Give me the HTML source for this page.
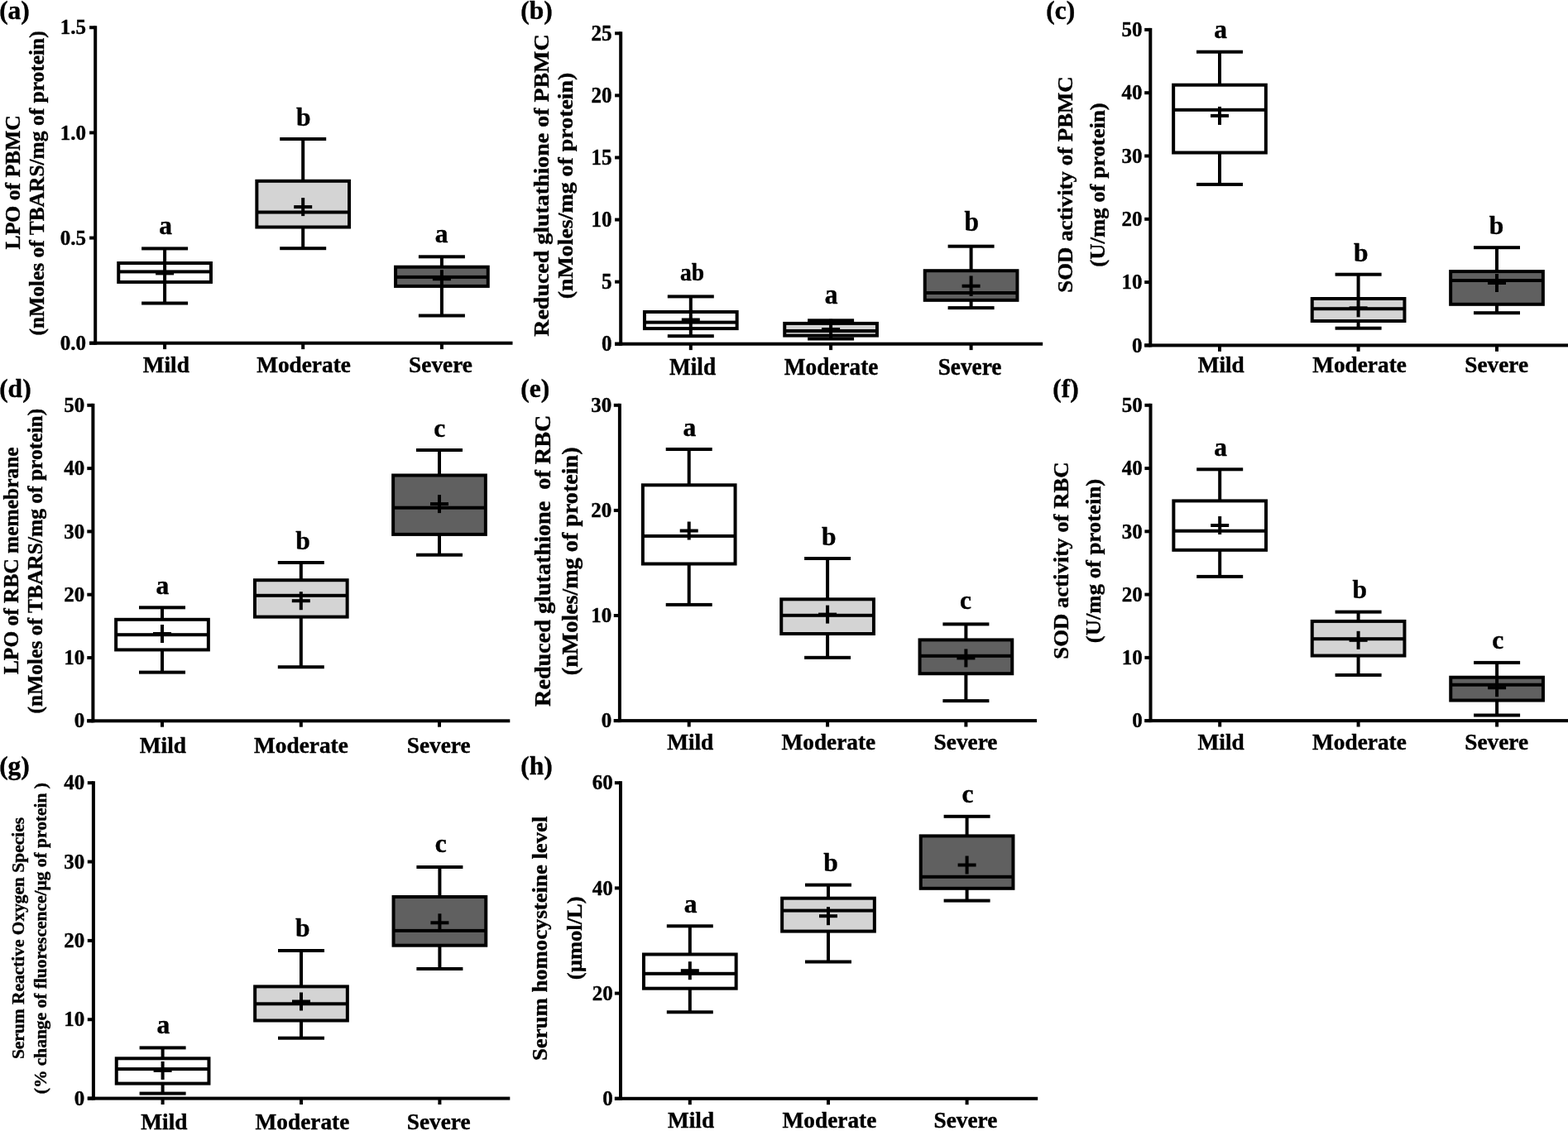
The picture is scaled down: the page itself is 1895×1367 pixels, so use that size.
<!DOCTYPE html>
<html><head><meta charset="utf-8"><title>Box plots</title>
<style>html,body{margin:0;padding:0;background:#fff;width:1895px;height:1367px;overflow:hidden}svg{display:block}text{font-family:"Liberation Serif","Times New Roman",serif;font-weight:bold;white-space:pre;stroke:#000;stroke-width:0.4px;stroke-linejoin:round}</style>
</head><body>
<svg width="1895" height="1367" viewBox="0 0 1895 1367" font-family="'Liberation Serif','Times New Roman',serif" font-weight="bold" fill="#000">
<rect width="100%" height="100%" fill="#fff"/>
<rect x="113.2" y="31.25" width="4" height="385.45" fill="#000"/>
<rect x="108.1" y="412.7" width="511.4" height="4" fill="#000"/>
<rect x="108.1" y="412.7" width="7.1" height="4" fill="#000"/>
<text x="72.7" y="422.89" font-size="25">0.0</text>
<rect x="108.1" y="285.55" width="7.1" height="4" fill="#000"/>
<text x="72.67" y="295.74" font-size="25">0.5</text>
<rect x="108.1" y="158.4" width="7.1" height="4" fill="#000"/>
<text x="72.7" y="168.59" font-size="25">1.0</text>
<rect x="108.1" y="31.25" width="7.1" height="4" fill="#000"/>
<text x="72.67" y="41.44" font-size="25">1.5</text>
<rect x="197.1" y="414.7" width="4" height="7.4" fill="#000"/>
<rect x="364.2" y="414.7" width="4" height="7.4" fill="#000"/>
<rect x="531.9" y="414.7" width="4" height="7.4" fill="#000"/>
<rect x="197.1" y="300.4" width="4" height="17.6" fill="#000"/>
<rect x="197.1" y="340.9" width="4" height="25.6" fill="#000"/>
<rect x="171.1" y="298.4" width="56" height="4" fill="#000"/>
<rect x="171.1" y="364.5" width="56" height="4" fill="#000"/>
<rect x="141.25" y="316" width="115.7" height="26.9" fill="#000"/>
<rect x="145.25" y="320" width="107.7" height="18.9" fill="#fff"/>
<rect x="143.25" y="326.4" width="111.7" height="4" fill="#000"/>
<rect x="188.1" y="328.4" width="22" height="4" fill="#000"/>
<rect x="197.1" y="319.4" width="4" height="22" fill="#000"/>
<text x="192.36" y="283.4" font-size="31.5">a</text>
<rect x="364.2" y="168" width="4" height="50.8" fill="#000"/>
<rect x="364.2" y="274.5" width="4" height="25.7" fill="#000"/>
<rect x="338.2" y="166" width="56" height="4" fill="#000"/>
<rect x="338.2" y="298.2" width="56" height="4" fill="#000"/>
<rect x="308.35" y="216.8" width="115.7" height="59.7" fill="#000"/>
<rect x="312.35" y="220.8" width="107.7" height="51.7" fill="#d4d4d4"/>
<rect x="310.35" y="254.5" width="111.7" height="4" fill="#000"/>
<rect x="355.2" y="248.1" width="22" height="4" fill="#000"/>
<rect x="364.2" y="239.1" width="4" height="22" fill="#000"/>
<text x="357.98" y="152" font-size="31.5">b</text>
<rect x="531.9" y="310.3" width="4" height="12.4" fill="#000"/>
<rect x="531.9" y="345.9" width="4" height="35.6" fill="#000"/>
<rect x="505.9" y="308.3" width="56" height="4" fill="#000"/>
<rect x="505.9" y="379.5" width="56" height="4" fill="#000"/>
<rect x="476.05" y="320.7" width="115.7" height="27.2" fill="#000"/>
<rect x="480.05" y="324.7" width="107.7" height="19.2" fill="#606060"/>
<rect x="478.05" y="332.9" width="111.7" height="4" fill="#000"/>
<rect x="522.9" y="335.2" width="22" height="4" fill="#000"/>
<rect x="531.9" y="326.2" width="4" height="22" fill="#000"/>
<text x="525.76" y="293.4" font-size="31.5">a</text>
<text x="172.76" y="450.1" font-size="27.3">Mild</text>
<text x="310.17" y="450.1" font-size="27.3">Moderate</text>
<text x="494.08" y="450.1" font-size="27.3">Severe</text>
<text transform="translate(24.4 221.05) rotate(-90) scale(1 0.95)" x="-80.39" font-size="25.63">LPO of PBMC</text>
<text transform="translate(53.2 220.85) rotate(-90) scale(1 0.95)" x="-184.65" font-size="25.47">(nMoles of TBARS/mg of protein)</text>
<text x="-0.88" y="23.2" font-size="31.5">(a)</text>
<rect x="748.2" y="38.3" width="4" height="379.4" fill="#000"/>
<rect x="743.1" y="413.7" width="517.1" height="4" fill="#000"/>
<rect x="743.1" y="413.7" width="7.1" height="4" fill="#000"/>
<text transform="translate(726.95 424.46) scale(1 1.07)" font-size="25">0</text>
<rect x="743.1" y="338.62" width="7.1" height="4" fill="#000"/>
<text transform="translate(726.92 349.38) scale(1 1.07)" font-size="25">5</text>
<rect x="743.1" y="263.54" width="7.1" height="4" fill="#000"/>
<text transform="translate(714.45 274.3) scale(1 1.07)" font-size="25">10</text>
<rect x="743.1" y="188.46" width="7.1" height="4" fill="#000"/>
<text transform="translate(714.42 199.22) scale(1 1.07)" font-size="25">15</text>
<rect x="743.1" y="113.38" width="7.1" height="4" fill="#000"/>
<text transform="translate(714.45 124.14) scale(1 1.07)" font-size="25">20</text>
<rect x="743.1" y="38.3" width="7.1" height="4" fill="#000"/>
<text transform="translate(714.42 49.06) scale(1 1.07)" font-size="25">25</text>
<rect x="832.8" y="415.7" width="4" height="7.4" fill="#000"/>
<rect x="1002.1" y="415.7" width="4" height="7.4" fill="#000"/>
<rect x="1171.6" y="415.7" width="4" height="7.4" fill="#000"/>
<rect x="832.8" y="358.4" width="4" height="18.6" fill="#000"/>
<rect x="832.8" y="397.1" width="4" height="9.1" fill="#000"/>
<rect x="806.8" y="356.4" width="56" height="4" fill="#000"/>
<rect x="806.8" y="404.2" width="56" height="4" fill="#000"/>
<rect x="776.95" y="375" width="115.7" height="24.1" fill="#000"/>
<rect x="780.95" y="379" width="107.7" height="16.1" fill="#fff"/>
<rect x="778.95" y="387.6" width="111.7" height="4" fill="#000"/>
<rect x="823.8" y="384.5" width="22" height="4" fill="#000"/>
<rect x="832.8" y="374.2" width="4" height="24.6" fill="#000"/>
<text transform="translate(821.99 339.4) scale(1 1.04)" font-size="27.5">ab</text>
<rect x="1002.1" y="387.3" width="4" height="3.6" fill="#000"/>
<rect x="1002.1" y="405.6" width="4" height="3.9" fill="#000"/>
<rect x="976.1" y="385.3" width="56" height="4" fill="#000"/>
<rect x="976.1" y="407.5" width="56" height="4" fill="#000"/>
<rect x="946.25" y="388.9" width="115.7" height="18.7" fill="#000"/>
<rect x="950.25" y="392.9" width="107.7" height="10.7" fill="#d4d4d4"/>
<rect x="948.25" y="398" width="111.7" height="4" fill="#000"/>
<rect x="993.1" y="396" width="22" height="4" fill="#000"/>
<rect x="1002.1" y="385.7" width="4" height="24.6" fill="#000"/>
<text transform="translate(996.76 366.9) scale(1 1.05)" font-size="31.5">a</text>
<rect x="1171.6" y="297.7" width="4" height="29.5" fill="#000"/>
<rect x="1171.6" y="362.8" width="4" height="9.3" fill="#000"/>
<rect x="1145.6" y="295.7" width="56" height="4" fill="#000"/>
<rect x="1145.6" y="370.1" width="56" height="4" fill="#000"/>
<rect x="1115.75" y="325.2" width="115.7" height="39.6" fill="#000"/>
<rect x="1119.75" y="329.2" width="107.7" height="31.6" fill="#606060"/>
<rect x="1117.75" y="352" width="111.7" height="4" fill="#000"/>
<rect x="1162.6" y="343.7" width="22" height="4" fill="#000"/>
<rect x="1171.6" y="333.4" width="4" height="24.6" fill="#000"/>
<text transform="translate(1165.58 279.3) scale(1 1.05)" font-size="31.5">b</text>
<text transform="translate(808.96 452.7) scale(1 1.05)" font-size="27.3">Mild</text>
<text transform="translate(947.77 452.7) scale(1 1.05)" font-size="27.3">Moderate</text>
<text transform="translate(1133.68 452.7) scale(1 1.05)" font-size="27.3">Severe</text>
<text transform="translate(662.5 224.75) rotate(-90) scale(1 0.9)" x="-181.94" font-size="27.94">Reduced glutathione of PBMC</text>
<text transform="translate(691.7 224.2) rotate(-90) scale(1 0.9)" x="-137.15" font-size="27.9">(nMoles/mg of protein)</text>
<text x="629.22" y="23.2" font-size="31.5">(b)</text>
<rect x="1388.3" y="33.9" width="4" height="385.5" fill="#000"/>
<rect x="1383.2" y="415.4" width="516.8" height="4" fill="#000"/>
<rect x="1383.2" y="415.4" width="7.1" height="4" fill="#000"/>
<text x="1367.95" y="425.59" font-size="25">0</text>
<rect x="1383.2" y="339.1" width="7.1" height="4" fill="#000"/>
<text x="1355.45" y="349.29" font-size="25">10</text>
<rect x="1383.2" y="262.8" width="7.1" height="4" fill="#000"/>
<text x="1355.45" y="272.99" font-size="25">20</text>
<rect x="1383.2" y="186.5" width="7.1" height="4" fill="#000"/>
<text x="1355.45" y="196.69" font-size="25">30</text>
<rect x="1383.2" y="110.2" width="7.1" height="4" fill="#000"/>
<text x="1355.45" y="120.39" font-size="25">40</text>
<rect x="1383.2" y="33.9" width="7.1" height="4" fill="#000"/>
<text x="1355.45" y="44.09" font-size="25">50</text>
<rect x="1472" y="417.4" width="4" height="7.4" fill="#000"/>
<rect x="1639.6" y="417.4" width="4" height="7.4" fill="#000"/>
<rect x="1807" y="417.4" width="4" height="7.4" fill="#000"/>
<rect x="1472" y="62.7" width="4" height="40" fill="#000"/>
<rect x="1472" y="184.5" width="4" height="38.4" fill="#000"/>
<rect x="1446" y="60.7" width="56" height="4" fill="#000"/>
<rect x="1446" y="220.9" width="56" height="4" fill="#000"/>
<rect x="1416.15" y="100.7" width="115.7" height="85.8" fill="#000"/>
<rect x="1420.15" y="104.7" width="107.7" height="77.8" fill="#fff"/>
<rect x="1418.15" y="130.8" width="111.7" height="4" fill="#000"/>
<rect x="1463" y="137.9" width="22" height="4" fill="#000"/>
<rect x="1472" y="128.9" width="4" height="22" fill="#000"/>
<text x="1467.36" y="45.7" font-size="31.5">a</text>
<rect x="1639.6" y="331.7" width="4" height="29.3" fill="#000"/>
<rect x="1639.6" y="388" width="4" height="8.7" fill="#000"/>
<rect x="1613.6" y="329.7" width="56" height="4" fill="#000"/>
<rect x="1613.6" y="394.7" width="56" height="4" fill="#000"/>
<rect x="1583.75" y="359" width="115.7" height="31" fill="#000"/>
<rect x="1587.75" y="363" width="107.7" height="23" fill="#d4d4d4"/>
<rect x="1585.75" y="371.2" width="111.7" height="4" fill="#000"/>
<rect x="1630.6" y="370.3" width="22" height="4" fill="#000"/>
<rect x="1639.6" y="361.3" width="4" height="22" fill="#000"/>
<text x="1635.88" y="315.5" font-size="31.5">b</text>
<rect x="1807" y="299.2" width="4" height="28.9" fill="#000"/>
<rect x="1807" y="367.8" width="4" height="10.4" fill="#000"/>
<rect x="1781" y="297.2" width="56" height="4" fill="#000"/>
<rect x="1781" y="376.2" width="56" height="4" fill="#000"/>
<rect x="1751.15" y="326.1" width="115.7" height="43.7" fill="#000"/>
<rect x="1755.15" y="330.1" width="107.7" height="35.7" fill="#606060"/>
<rect x="1753.15" y="337" width="111.7" height="4" fill="#000"/>
<rect x="1798" y="340" width="22" height="4" fill="#000"/>
<rect x="1807" y="331" width="4" height="22" fill="#000"/>
<text x="1799.68" y="282.5" font-size="31.5">b</text>
<text x="1447.66" y="450" font-size="27.3">Mild</text>
<text x="1586.17" y="450" font-size="27.3">Moderate</text>
<text x="1770.28" y="450" font-size="27.3">Severe</text>
<text transform="translate(1296.4 223.25) rotate(-90) scale(1 0.95)" x="-130.47" font-size="26.83">SOD activity of PBMC</text>
<text transform="translate(1334.8 223.25) rotate(-90) scale(1 0.95)" x="-99.51" font-size="26.74">(U/mg of protein)</text>
<text x="1264.22" y="23.2" font-size="31.5">(c)</text>
<rect x="110.4" y="487.8" width="4" height="385.5" fill="#000"/>
<rect x="105.3" y="869.3" width="511" height="4" fill="#000"/>
<rect x="105.3" y="869.3" width="7.1" height="4" fill="#000"/>
<text x="89.85" y="879.49" font-size="25">0</text>
<rect x="105.3" y="793" width="7.1" height="4" fill="#000"/>
<text x="77.35" y="803.19" font-size="25">10</text>
<rect x="105.3" y="716.7" width="7.1" height="4" fill="#000"/>
<text x="77.35" y="726.89" font-size="25">20</text>
<rect x="105.3" y="640.4" width="7.1" height="4" fill="#000"/>
<text x="77.35" y="650.59" font-size="25">30</text>
<rect x="105.3" y="564.1" width="7.1" height="4" fill="#000"/>
<text x="77.35" y="574.29" font-size="25">40</text>
<rect x="105.3" y="487.8" width="7.1" height="4" fill="#000"/>
<text x="77.35" y="497.99" font-size="25">50</text>
<rect x="194" y="871.3" width="4" height="7.4" fill="#000"/>
<rect x="361.8" y="871.3" width="4" height="7.4" fill="#000"/>
<rect x="529" y="871.3" width="4" height="7.4" fill="#000"/>
<rect x="194" y="734.3" width="4" height="14.5" fill="#000"/>
<rect x="194" y="785.4" width="4" height="27.2" fill="#000"/>
<rect x="168" y="732.3" width="56" height="4" fill="#000"/>
<rect x="168" y="810.6" width="56" height="4" fill="#000"/>
<rect x="138.15" y="746.8" width="115.7" height="40.6" fill="#000"/>
<rect x="142.15" y="750.8" width="107.7" height="32.6" fill="#fff"/>
<rect x="140.15" y="765.2" width="111.7" height="4" fill="#000"/>
<rect x="185" y="764" width="22" height="4" fill="#000"/>
<rect x="194" y="755" width="4" height="22" fill="#000"/>
<text x="188.46" y="717.6" font-size="31.5">a</text>
<rect x="361.8" y="680" width="4" height="21.2" fill="#000"/>
<rect x="361.8" y="745.6" width="4" height="60.6" fill="#000"/>
<rect x="335.8" y="678" width="56" height="4" fill="#000"/>
<rect x="335.8" y="804.2" width="56" height="4" fill="#000"/>
<rect x="305.95" y="699.2" width="115.7" height="48.4" fill="#000"/>
<rect x="309.95" y="703.2" width="107.7" height="40.4" fill="#d4d4d4"/>
<rect x="307.95" y="717.8" width="111.7" height="4" fill="#000"/>
<rect x="352.8" y="724.2" width="22" height="4" fill="#000"/>
<rect x="361.8" y="715.2" width="4" height="22" fill="#000"/>
<text x="357.28" y="664" font-size="31.5">b</text>
<rect x="529" y="544" width="4" height="30.5" fill="#000"/>
<rect x="529" y="645.9" width="4" height="24.8" fill="#000"/>
<rect x="503" y="542" width="56" height="4" fill="#000"/>
<rect x="503" y="668.7" width="56" height="4" fill="#000"/>
<rect x="473.15" y="572.5" width="115.7" height="75.4" fill="#000"/>
<rect x="477.15" y="576.5" width="107.7" height="67.4" fill="#606060"/>
<rect x="475.15" y="611.7" width="111.7" height="4" fill="#000"/>
<rect x="520" y="607.1" width="22" height="4" fill="#000"/>
<rect x="529" y="598.1" width="4" height="22" fill="#000"/>
<text x="524.36" y="528.2" font-size="31.5">c</text>
<text x="168.86" y="909.5" font-size="27.3">Mild</text>
<text x="307.12" y="909.5" font-size="27.3">Moderate</text>
<text x="491.73" y="909.5" font-size="27.3">Severe</text>
<text transform="translate(21.7 677.8) rotate(-90) scale(1 0.95)" x="-137.31" font-size="25.44">LPO of RBC memebrane</text>
<text transform="translate(50.7 677.55) rotate(-90) scale(1 0.95)" x="-184.86" font-size="25.5">(nMoles of TBARS/mg of protein)</text>
<text x="-0.88" y="479.7" font-size="31.5">(d)</text>
<rect x="746.9" y="487.8" width="4" height="385.3" fill="#000"/>
<rect x="741.8" y="869.1" width="511.2" height="4" fill="#000"/>
<rect x="741.8" y="869.1" width="7.1" height="4" fill="#000"/>
<text x="726.65" y="879.29" font-size="25">0</text>
<rect x="741.8" y="742" width="7.1" height="4" fill="#000"/>
<text x="714.15" y="752.19" font-size="25">10</text>
<rect x="741.8" y="614.9" width="7.1" height="4" fill="#000"/>
<text x="714.15" y="625.09" font-size="25">20</text>
<rect x="741.8" y="487.8" width="7.1" height="4" fill="#000"/>
<text x="714.15" y="497.99" font-size="25">30</text>
<rect x="830.7" y="871.1" width="4" height="7.4" fill="#000"/>
<rect x="998.1" y="871.1" width="4" height="7.4" fill="#000"/>
<rect x="1165.4" y="871.1" width="4" height="7.4" fill="#000"/>
<rect x="830.7" y="543" width="4" height="43.3" fill="#000"/>
<rect x="830.7" y="681.5" width="4" height="49.4" fill="#000"/>
<rect x="804.7" y="541" width="56" height="4" fill="#000"/>
<rect x="804.7" y="728.9" width="56" height="4" fill="#000"/>
<rect x="774.85" y="584.3" width="115.7" height="99.2" fill="#000"/>
<rect x="778.85" y="588.3" width="107.7" height="91.2" fill="#fff"/>
<rect x="776.85" y="645.9" width="111.7" height="4" fill="#000"/>
<rect x="821.7" y="639.5" width="22" height="4" fill="#000"/>
<rect x="830.7" y="630.5" width="4" height="22" fill="#000"/>
<text x="825.46" y="526.9" font-size="31.5">a</text>
<rect x="998.1" y="675" width="4" height="49.3" fill="#000"/>
<rect x="998.1" y="766" width="4" height="28.8" fill="#000"/>
<rect x="972.1" y="673" width="56" height="4" fill="#000"/>
<rect x="972.1" y="792.8" width="56" height="4" fill="#000"/>
<rect x="942.25" y="722.3" width="115.7" height="45.7" fill="#000"/>
<rect x="946.25" y="726.3" width="107.7" height="37.7" fill="#d4d4d4"/>
<rect x="944.25" y="741.8" width="111.7" height="4" fill="#000"/>
<rect x="989.1" y="740.6" width="22" height="4" fill="#000"/>
<rect x="998.1" y="731.6" width="4" height="22" fill="#000"/>
<text x="992.88" y="658.7" font-size="31.5">b</text>
<rect x="1165.4" y="754.4" width="4" height="19" fill="#000"/>
<rect x="1165.4" y="814.2" width="4" height="32.9" fill="#000"/>
<rect x="1139.4" y="752.4" width="56" height="4" fill="#000"/>
<rect x="1139.4" y="845.1" width="56" height="4" fill="#000"/>
<rect x="1109.55" y="771.4" width="115.7" height="44.8" fill="#000"/>
<rect x="1113.55" y="775.4" width="107.7" height="36.8" fill="#606060"/>
<rect x="1111.55" y="790.8" width="111.7" height="4" fill="#000"/>
<rect x="1156.4" y="793.4" width="22" height="4" fill="#000"/>
<rect x="1165.4" y="784.4" width="4" height="22" fill="#000"/>
<text x="1160.11" y="736.1" font-size="31.5">c</text>
<text x="806.16" y="906.4" font-size="27.3">Mild</text>
<text x="944.47" y="906.4" font-size="27.3">Moderate</text>
<text x="1128.58" y="906.4" font-size="27.3">Severe</text>
<text transform="translate(664.5 678.55) rotate(-90) scale(1 0.95)" x="-175.36" font-size="28.19">Reduced glutathione  of RBC</text>
<text transform="translate(698.2 678) rotate(-90) scale(1 0.95)" x="-138.23" font-size="28.12">(nMoles/mg of protein)</text>
<text x="629.22" y="479.7" font-size="31.5">(e)</text>
<rect x="1388.5" y="487.8" width="4" height="385.3" fill="#000"/>
<rect x="1383.4" y="869.1" width="516.6" height="4" fill="#000"/>
<rect x="1383.4" y="869.1" width="7.1" height="4" fill="#000"/>
<text x="1368.25" y="879.29" font-size="25">0</text>
<rect x="1383.4" y="792.84" width="7.1" height="4" fill="#000"/>
<text x="1355.75" y="803.03" font-size="25">10</text>
<rect x="1383.4" y="716.58" width="7.1" height="4" fill="#000"/>
<text x="1355.75" y="726.77" font-size="25">20</text>
<rect x="1383.4" y="640.32" width="7.1" height="4" fill="#000"/>
<text x="1355.75" y="650.51" font-size="25">30</text>
<rect x="1383.4" y="564.06" width="7.1" height="4" fill="#000"/>
<text x="1355.75" y="574.25" font-size="25">40</text>
<rect x="1383.4" y="487.8" width="7.1" height="4" fill="#000"/>
<text x="1355.75" y="497.99" font-size="25">50</text>
<rect x="1472.2" y="871.1" width="4" height="7.4" fill="#000"/>
<rect x="1639.6" y="871.1" width="4" height="7.4" fill="#000"/>
<rect x="1807.1" y="871.1" width="4" height="7.4" fill="#000"/>
<rect x="1472.2" y="567.3" width="4" height="38.1" fill="#000"/>
<rect x="1472.2" y="664.8" width="4" height="32.1" fill="#000"/>
<rect x="1446.2" y="565.3" width="56" height="4" fill="#000"/>
<rect x="1446.2" y="694.9" width="56" height="4" fill="#000"/>
<rect x="1416.35" y="603.4" width="115.7" height="63.4" fill="#000"/>
<rect x="1420.35" y="607.4" width="107.7" height="55.4" fill="#fff"/>
<rect x="1418.35" y="639.7" width="111.7" height="4" fill="#000"/>
<rect x="1463.2" y="633" width="22" height="4" fill="#000"/>
<rect x="1472.2" y="624" width="4" height="22" fill="#000"/>
<text x="1467.21" y="550.9" font-size="31.5">a</text>
<rect x="1639.6" y="739.6" width="4" height="11.3" fill="#000"/>
<rect x="1639.6" y="792.5" width="4" height="23.4" fill="#000"/>
<rect x="1613.6" y="737.6" width="56" height="4" fill="#000"/>
<rect x="1613.6" y="813.9" width="56" height="4" fill="#000"/>
<rect x="1583.75" y="748.9" width="115.7" height="45.6" fill="#000"/>
<rect x="1587.75" y="752.9" width="107.7" height="37.6" fill="#d4d4d4"/>
<rect x="1585.75" y="770.2" width="111.7" height="4" fill="#000"/>
<rect x="1630.6" y="771.8" width="22" height="4" fill="#000"/>
<rect x="1639.6" y="762.8" width="4" height="22" fill="#000"/>
<text x="1634.48" y="722.7" font-size="31.5">b</text>
<rect x="1807.1" y="800.9" width="4" height="17.8" fill="#000"/>
<rect x="1807.1" y="846.5" width="4" height="18" fill="#000"/>
<rect x="1781.1" y="798.9" width="56" height="4" fill="#000"/>
<rect x="1781.1" y="862.5" width="56" height="4" fill="#000"/>
<rect x="1751.25" y="816.7" width="115.7" height="31.8" fill="#000"/>
<rect x="1755.25" y="820.7" width="107.7" height="23.8" fill="#606060"/>
<rect x="1753.25" y="825.7" width="111.7" height="4" fill="#000"/>
<rect x="1798.1" y="829.2" width="22" height="4" fill="#000"/>
<rect x="1807.1" y="820.2" width="4" height="22" fill="#000"/>
<text x="1803.16" y="784.1" font-size="31.5">c</text>
<text x="1447.61" y="906.4" font-size="27.3">Mild</text>
<text x="1586.12" y="906.4" font-size="27.3">Moderate</text>
<text x="1770.23" y="906.4" font-size="27.3">Severe</text>
<text transform="translate(1291.4 677.8) rotate(-90) scale(1 0.95)" x="-118.94" font-size="26.75">SOD activity of RBC</text>
<text transform="translate(1329.9 677.8) rotate(-90) scale(1 0.95)" x="-99.47" font-size="26.73">(U/mg of protein)</text>
<text x="1272.22" y="479.7" font-size="31.5">(f)</text>
<rect x="110.9" y="944.2" width="4" height="385.4" fill="#000"/>
<rect x="105.8" y="1325.6" width="510.5" height="4" fill="#000"/>
<rect x="105.8" y="1325.6" width="7.1" height="4" fill="#000"/>
<text x="89.85" y="1335.79" font-size="25">0</text>
<rect x="105.8" y="1230.25" width="7.1" height="4" fill="#000"/>
<text x="77.35" y="1240.44" font-size="25">10</text>
<rect x="105.8" y="1134.9" width="7.1" height="4" fill="#000"/>
<text x="77.35" y="1145.09" font-size="25">20</text>
<rect x="105.8" y="1039.55" width="7.1" height="4" fill="#000"/>
<text x="77.35" y="1049.74" font-size="25">30</text>
<rect x="105.8" y="944.2" width="7.1" height="4" fill="#000"/>
<text x="77.35" y="954.39" font-size="25">40</text>
<rect x="194.6" y="1327.6" width="4" height="7.4" fill="#000"/>
<rect x="362" y="1327.6" width="4" height="7.4" fill="#000"/>
<rect x="529.4" y="1327.6" width="4" height="7.4" fill="#000"/>
<rect x="194.6" y="1266.4" width="4" height="12.9" fill="#000"/>
<rect x="194.6" y="1309.6" width="4" height="12" fill="#000"/>
<rect x="168.6" y="1264.4" width="56" height="4" fill="#000"/>
<rect x="168.6" y="1319.6" width="56" height="4" fill="#000"/>
<rect x="138.75" y="1277.3" width="115.7" height="34.3" fill="#000"/>
<rect x="142.75" y="1281.3" width="107.7" height="26.3" fill="#fff"/>
<rect x="140.75" y="1290.1" width="111.7" height="4" fill="#000"/>
<rect x="185.6" y="1291.9" width="22" height="4" fill="#000"/>
<rect x="194.6" y="1282.9" width="4" height="22" fill="#000"/>
<text x="189.46" y="1249.3" font-size="31.5">a</text>
<rect x="362" y="1149" width="4" height="43.4" fill="#000"/>
<rect x="362" y="1233.5" width="4" height="21.2" fill="#000"/>
<rect x="336" y="1147" width="56" height="4" fill="#000"/>
<rect x="336" y="1252.7" width="56" height="4" fill="#000"/>
<rect x="306.15" y="1190.4" width="115.7" height="45.1" fill="#000"/>
<rect x="310.15" y="1194.4" width="107.7" height="37.1" fill="#d4d4d4"/>
<rect x="308.15" y="1211.3" width="111.7" height="4" fill="#000"/>
<rect x="353" y="1208.5" width="22" height="4" fill="#000"/>
<rect x="362" y="1199.5" width="4" height="22" fill="#000"/>
<text x="356.88" y="1132.3" font-size="31.5">b</text>
<rect x="529.4" y="1048" width="4" height="36" fill="#000"/>
<rect x="529.4" y="1142.7" width="4" height="28.3" fill="#000"/>
<rect x="503.4" y="1046" width="56" height="4" fill="#000"/>
<rect x="503.4" y="1169" width="56" height="4" fill="#000"/>
<rect x="473.55" y="1082" width="115.7" height="62.7" fill="#000"/>
<rect x="477.55" y="1086" width="107.7" height="54.7" fill="#606060"/>
<rect x="475.55" y="1122.9" width="111.7" height="4" fill="#000"/>
<rect x="520.4" y="1113.3" width="22" height="4" fill="#000"/>
<rect x="529.4" y="1104.3" width="4" height="22" fill="#000"/>
<text x="525.66" y="1030.1" font-size="31.5">c</text>
<text x="170.31" y="1365.3" font-size="27.3">Mild</text>
<text x="308.57" y="1365.3" font-size="27.3">Moderate</text>
<text x="491.73" y="1365.3" font-size="27.3">Severe</text>
<text transform="translate(29.4 1133.7) rotate(-90) scale(1 0.95)" x="-146.42" font-size="21.43">Serum Reactive Oxygen Species</text>
<text transform="translate(56.1 1133.7) rotate(-90) scale(1 0.95)" x="-188.55" font-size="21.46">(% change of fluorescence/µg of protein )</text>
<text x="-0.88" y="936.1" font-size="31.5">(g)</text>
<rect x="748" y="944.2" width="4" height="385.6" fill="#000"/>
<rect x="742.9" y="1325.8" width="511.3" height="4" fill="#000"/>
<rect x="742.9" y="1325.8" width="7.1" height="4" fill="#000"/>
<text x="728.25" y="1335.99" font-size="25">0</text>
<rect x="742.9" y="1198.6" width="7.1" height="4" fill="#000"/>
<text x="715.75" y="1208.79" font-size="25">20</text>
<rect x="742.9" y="1071.4" width="7.1" height="4" fill="#000"/>
<text x="715.75" y="1081.59" font-size="25">40</text>
<rect x="742.9" y="944.2" width="7.1" height="4" fill="#000"/>
<text x="715.75" y="954.39" font-size="25">60</text>
<rect x="831.8" y="1327.8" width="4" height="7.4" fill="#000"/>
<rect x="999" y="1327.8" width="4" height="7.4" fill="#000"/>
<rect x="1166.6" y="1327.8" width="4" height="7.4" fill="#000"/>
<rect x="831.8" y="1119.3" width="4" height="34.2" fill="#000"/>
<rect x="831.8" y="1194.7" width="4" height="28.6" fill="#000"/>
<rect x="805.8" y="1117.3" width="56" height="4" fill="#000"/>
<rect x="805.8" y="1221.3" width="56" height="4" fill="#000"/>
<rect x="775.95" y="1151.5" width="115.7" height="45.2" fill="#000"/>
<rect x="779.95" y="1155.5" width="107.7" height="37.2" fill="#fff"/>
<rect x="777.95" y="1174.8" width="111.7" height="4" fill="#000"/>
<rect x="822.8" y="1171.2" width="22" height="4" fill="#000"/>
<rect x="831.8" y="1162.2" width="4" height="22" fill="#000"/>
<text x="826.86" y="1102.6" font-size="31.5">a</text>
<rect x="999" y="1069.6" width="4" height="16.1" fill="#000"/>
<rect x="999" y="1125.6" width="4" height="36.9" fill="#000"/>
<rect x="973" y="1067.6" width="56" height="4" fill="#000"/>
<rect x="973" y="1160.5" width="56" height="4" fill="#000"/>
<rect x="943.15" y="1083.7" width="115.7" height="43.9" fill="#000"/>
<rect x="947.15" y="1087.7" width="107.7" height="35.9" fill="#d4d4d4"/>
<rect x="945.15" y="1098.6" width="111.7" height="4" fill="#000"/>
<rect x="990" y="1105.2" width="22" height="4" fill="#000"/>
<rect x="999" y="1096.2" width="4" height="22" fill="#000"/>
<text x="995.33" y="1053.4" font-size="31.5">b</text>
<rect x="1166.6" y="986.8" width="4" height="23.6" fill="#000"/>
<rect x="1166.6" y="1073.8" width="4" height="14.8" fill="#000"/>
<rect x="1140.6" y="984.8" width="56" height="4" fill="#000"/>
<rect x="1140.6" y="1086.6" width="56" height="4" fill="#000"/>
<rect x="1110.75" y="1008.4" width="115.7" height="67.4" fill="#000"/>
<rect x="1114.75" y="1012.4" width="107.7" height="59.4" fill="#606060"/>
<rect x="1112.75" y="1057.8" width="111.7" height="4" fill="#000"/>
<rect x="1157.6" y="1043.5" width="22" height="4" fill="#000"/>
<rect x="1166.6" y="1034.5" width="4" height="22" fill="#000"/>
<text x="1162.61" y="969.9" font-size="31.5">c</text>
<text x="807.01" y="1362.9" font-size="27.3">Mild</text>
<text x="945.62" y="1362.9" font-size="27.3">Moderate</text>
<text x="1128.53" y="1362.9" font-size="27.3">Severe</text>
<text transform="translate(661.4 1133.8) rotate(-90) scale(1 0.95)" x="-148.21" font-size="26.73">Serum homocysteine level</text>
<text transform="translate(703.1 1133.8) rotate(-90) scale(1 0.95)" x="-50.36" font-size="26.52">(µmol/L)</text>
<text x="629.22" y="936.1" font-size="31.5">(h)</text>
</svg>
</body></html>
